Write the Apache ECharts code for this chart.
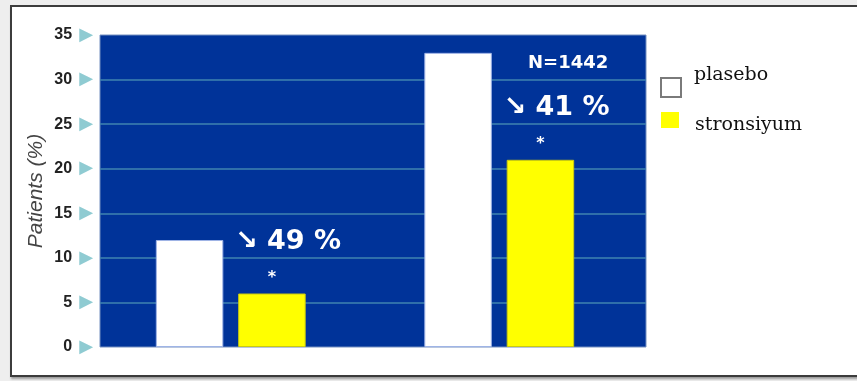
<!DOCTYPE html>
<html>
<head>
<meta charset="utf-8">
<script src="https://cdn.jsdelivr.net/npm/echarts@6/dist/echarts.min.js"></script>
<style>
  html, body { margin: 0; padding: 0; background: #eeeeee; }
  #frame {
    position: absolute; left: 10px; top: 5px; width: 900px; height: 368px;
    background: #ffffff; border: 2px solid #3c3c3c; border-right: none;
    box-shadow: 1px 2px 2px rgba(0,0,0,0.35);
  }
  #chart { position: absolute; left: 0; top: 0; width: 857px; height: 381px; }
</style>
</head>
<body>
<div id="frame"></div>
<div id="chart"></div>
<script>
// Two study groups, placebo vs strontium, percentage of patients
const groups = ['A', 'B'];
const placebo = [12, 33];
const stronsiyum = [6, 21];
const reductions = ['↘ 49 %', '↘ 41 %'];
const yTicks = [0, 5, 10, 15, 20, 25, 30, 35];
const sampleNote = 'N=1442';

const chart = echarts.init(document.getElementById('chart'), null, { renderer: 'canvas' });

const gridLineColors = yTicks.map((t, i) => (i === 0 || i === yTicks.length - 1) ? 'rgba(0,0,0,0)' : '#3f85b0');
const legendFont = { fontFamily: 'DejaVu Serif', fontSize: 19, color: '#111111' };

const option = {
  backgroundColor: 'transparent',
  animation: false,
  title: {
    text: sampleNote,
    left: 523, top: 49,
    textStyle: { color: '#ffffff', fontFamily: 'DejaVu Sans', fontWeight: 'bold', fontSize: 18 }
  },
  legend: [
    {
      orient: 'vertical', left: 660, top: 66, padding: 0,
      itemWidth: 20, itemHeight: 19, icon: 'rect',
      data: [{
        name: 'plasebo',
        itemStyle: { color: '#ffffff', borderColor: '#7a7a7a', borderWidth: 2 }
      }],
      formatter: name => '{a|' + name + '}',
      textStyle: { rich: { a: Object.assign({ padding: [0, 0, 24, 8] }, legendFont) } }
    },
    {
      orient: 'vertical', left: 661, top: 112, padding: 0,
      itemWidth: 18, itemHeight: 16, icon: 'rect',
      data: [{
        name: 'stronsiyum',
        itemStyle: { color: '#ffff00', borderWidth: 0 }
      }],
      formatter: name => '{a|' + name + '}',
      textStyle: { rich: { a: Object.assign({ padding: [10, 0, 0, 11] }, legendFont) } }
    }
  ],
  grid: [
    { left: 100, right: 211, top: 35, bottom: 34, show: true, backgroundColor: '#003399', borderColor: '#7590c0', borderWidth: 1 },
    { left: 96.5, right: 223.5, top: 35, bottom: 34 }
  ],
  xAxis: [
    { type: 'category', gridIndex: 0, data: groups, show: false },
    { type: 'category', gridIndex: 1, data: groups, show: false }
  ],
  yAxis: [
    {
      type: 'value', gridIndex: 0, min: 0, max: 35, interval: 5,
      name: 'Patients (%)', nameLocation: 'middle', nameRotate: 90, nameGap: 53,
      nameMoveOverlap: false,
      nameTextStyle: { fontFamily: 'Liberation Sans', fontStyle: 'italic', fontSize: 21, color: '#444444' },
      axisLine: { show: false }, axisTick: { show: false },
      axisLabel: {
        margin: 7,
        formatter: v => '{n|' + v + '}{t|▶}',
        rich: {
          n: { fontFamily: 'Liberation Sans', fontWeight: 'bold', fontSize: 16, color: '#222222' },
          t: { fontFamily: 'DejaVu Sans', fontSize: 18, color: '#8fcbd2', padding: [0, 0, 0, 7] }
        }
      },
      splitLine: { show: true, lineStyle: { color: gridLineColors, width: 1.5 } }
    },
    { type: 'value', gridIndex: 1, min: 0, max: 35, interval: 5, show: false, splitLine: { show: false } }
  ],
  series: [
    {
      name: 'plasebo', type: 'bar', xAxisIndex: 1, yAxisIndex: 1,
      data: placebo, barWidth: 67.5, barGap: '22%',
      itemStyle: { color: '#ffffff', borderColor: '#9fb4e6', borderWidth: 1 }
    },
    {
      name: 'stronsiyum', type: 'bar', xAxisIndex: 1, yAxisIndex: 1,
      data: stronsiyum, barWidth: 67.5, barGap: '22%',
      itemStyle: { color: '#ffff00', borderColor: '#caca10', borderWidth: 1 },
      label: {
        show: true, position: 'top', distance: 5,
        formatter: p => '{p|' + reductions[p.dataIndex] + '}\n{s|*}',
        rich: {
          p: { fontFamily: 'DejaVu Sans', fontWeight: 'bold', fontSize: 27, color: '#ffffff', lineHeight: 32, padding: [0, 0, 18, 32] },
          s: { fontFamily: 'DejaVu Sans', fontWeight: 'bold', fontSize: 16, color: '#ffffff', lineHeight: 22 }
        }
      }
    }
  ]
};

chart.setOption(option);
</script>
</body>
</html>
